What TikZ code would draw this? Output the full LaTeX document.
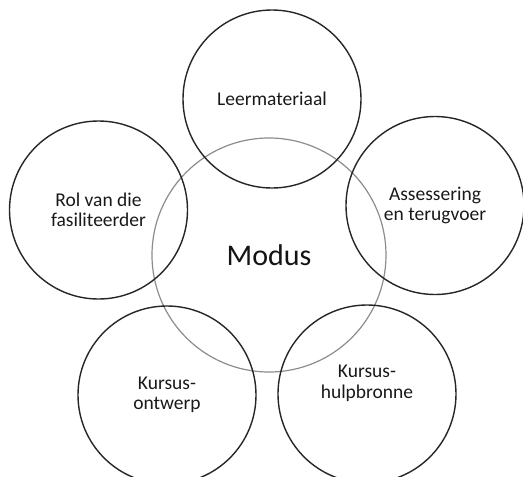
\documentclass[tikz,border=0pt]{standalone}
\usepackage{fontspec}
\setmainfont{Carlito}
\begin{document}
\begin{tikzpicture}[x=1pt,y=-1pt,
  petal/.style={circle,draw=black!85,line width=1.4pt,minimum size=178pt,inner sep=0pt,align=center,
    font=\fontsize{19.5}{20.5}\selectfont,text=black!90},
  hub/.style={circle,draw=black!45,line width=1.2pt,minimum size=234pt,inner sep=0pt,
    font=\fontsize{30}{32}\selectfont,text=black!92}]
\useasboundingbox (0,0) rectangle (523,477);
\begin{scope}
\clip (0,0) rectangle (523,477);
\node[hub] (modus) at (269,255) {Modus};
\node[petal] (leer) at (272,99) {Leermateriaal};
\node[petal] (rol) at (98.5,210) {Rol van die\\fasiliteerder};
\node[petal] (ass) at (435,205.5) {Assessering\\en terugvoer};
\node[petal] (ont) at (167,395) {Kursus-\\ontwerp};
\node[petal, text depth=0pt] (hulp) at (367,394) {Kursus-\\hulpbronne\\[4pt]};
\end{scope}
\end{tikzpicture}
\end{document}
